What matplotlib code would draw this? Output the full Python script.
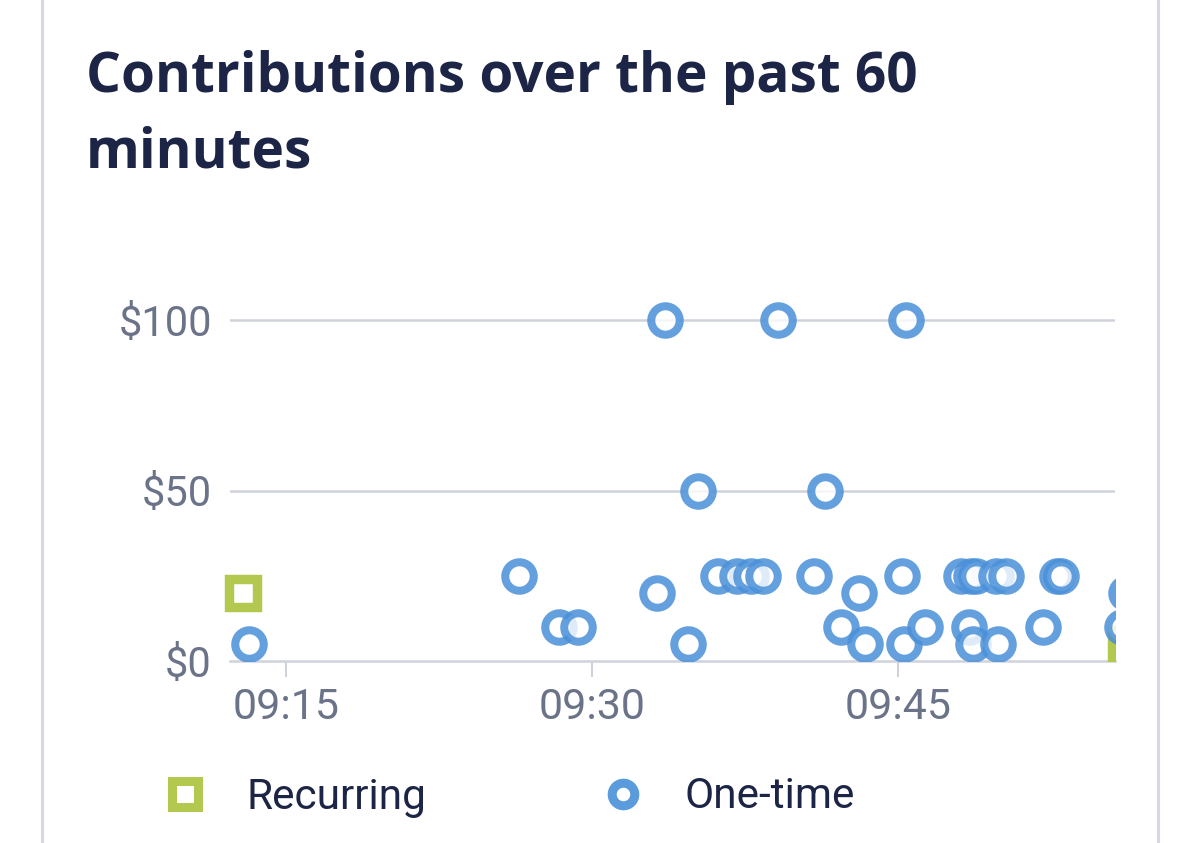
import matplotlib
matplotlib.use("Agg")
import matplotlib.pyplot as plt
from matplotlib.lines import Line2D
from matplotlib.patches import Rectangle

# minutes after 09:00 and amount in dollars
onetime_min = [13.2, 26.4, 28.4, 29.3, 33.2, 33.6, 34.7, 35.2, 36.2, 37.1,
               37.8, 38.4, 39.1, 40.9, 41.4, 42.2, 43.1, 43.4, 45.2, 45.4,
               45.3, 46.3, 48.1, 48.6, 48.8, 49.8, 50.3, 52.8, 53.0, 48.5,
               48.7, 49.9, 52.1, 56.2, 56.0]
onetime_amt = [5, 25, 10, 10, 20, 100, 5, 50, 25, 25,
               25, 25, 100, 25, 50, 10, 20, 5, 25, 100,
               5, 10, 25, 25, 25, 25, 25, 25, 25, 10,
               5, 5, 10, 20, 10]
recurring_min = [12.9, 56.2]
recurring_amt = [20, 5]

xticks = [15, 30, 45]
xtick_labels = ["09:15", "09:30", "09:45"]
yticks = [0, 50, 100]
ytick_labels = ["$0", "$50", "$100"]

green = "#B3C84F"
grid_c = "#CFD2DA"
tick_c = "#6B7388"
navy = "#1C2546"

plt.rcParams["font.family"] = ["Roboto", "DejaVu Sans"]

fig = plt.figure(figsize=(12, 8.43), dpi=100)
W, H = 1200, 843
ax = fig.add_axes([230 / W, 1 - 661 / H, (1115 - 230) / W, (661 - 280) / H])

px_per_unit = (661 - 320) / 100
ax.set_ylim(0, (661 - 280) / px_per_unit)
px_per_min = (898 - 286) / 30
ax.set_xlim(15 - (286 - 230) / px_per_min, 15 + (1115 - 286) / px_per_min)

# points may spill a little to the left of the plot, but are cut at the right
clip = Rectangle((-0.05, 0), 1.05, 1.2, transform=ax.transAxes)

rec, = ax.plot(recurring_min, recurring_amt, ls="none", marker="s",
               markersize=20.5, markeredgewidth=6.8, markeredgecolor=green,
               markerfacecolor="white", zorder=3)
one, = ax.plot(onetime_min, onetime_amt, ls="none", marker="o",
               markersize=20.5, markeredgewidth=5.8,
               markeredgecolor=(0.29, 0.565, 0.85, 0.85),
               markerfacecolor=(1, 1, 1, 0.8), zorder=4)
rec.set_clip_path(clip)
one.set_clip_path(clip)

for v in yticks[1:]:
    ax.axhline(v, color=grid_c, lw=1.8, zorder=1)

for s in ["top", "right", "left"]:
    ax.spines[s].set_visible(False)
ax.spines["bottom"].set_color(grid_c)
ax.spines["bottom"].set_linewidth(1.8)

ax.set_xticks(xticks)
ax.set_xticklabels(xtick_labels)
ax.set_yticks(yticks)
ax.set_yticklabels(ytick_labels)
ax.tick_params(axis="x", length=11.5, width=1.5, color=grid_c, pad=7,
               labelsize=31, labelcolor=tick_c)
ax.tick_params(axis="y", length=0, pad=13, labelsize=30, labelcolor=tick_c)

# title
fig.text(86 / W, 1 - 50 / H, "Contributions over the past 60\nminutes",
         ha="left", va="top", fontsize=39.5, fontweight="bold",
         family=["Open Sans", "DejaVu Sans"], color=navy, linespacing=1.5)

# card borders
for x in [42, 1158]:
    fig.add_artist(Line2D([x / W, x / W], [0, 1], transform=fig.transFigure,
                          color="#D6D9E1", lw=2.2))

# legend
h1 = Line2D([], [], ls="none", marker="s", markersize=14, markeredgewidth=6.5,
            markeredgecolor=green, markerfacecolor="white")
h2 = Line2D([], [], ls="none", marker="o", markersize=12.5, markeredgewidth=6.5,
            markeredgecolor="#5A9BDC", markerfacecolor="white")
fig.legend([h1, h2], ["Recurring", "One-time"], loc="center left",
           bbox_to_anchor=(164 / W, 1 - 797 / H), ncol=2, frameon=False,
           fontsize=30.5, labelcolor=navy, handlelength=1.0, handletextpad=0.95,
           columnspacing=4.15, borderpad=0, borderaxespad=0, markerscale=1.3)

fig.savefig("out.png", dpi=100)
